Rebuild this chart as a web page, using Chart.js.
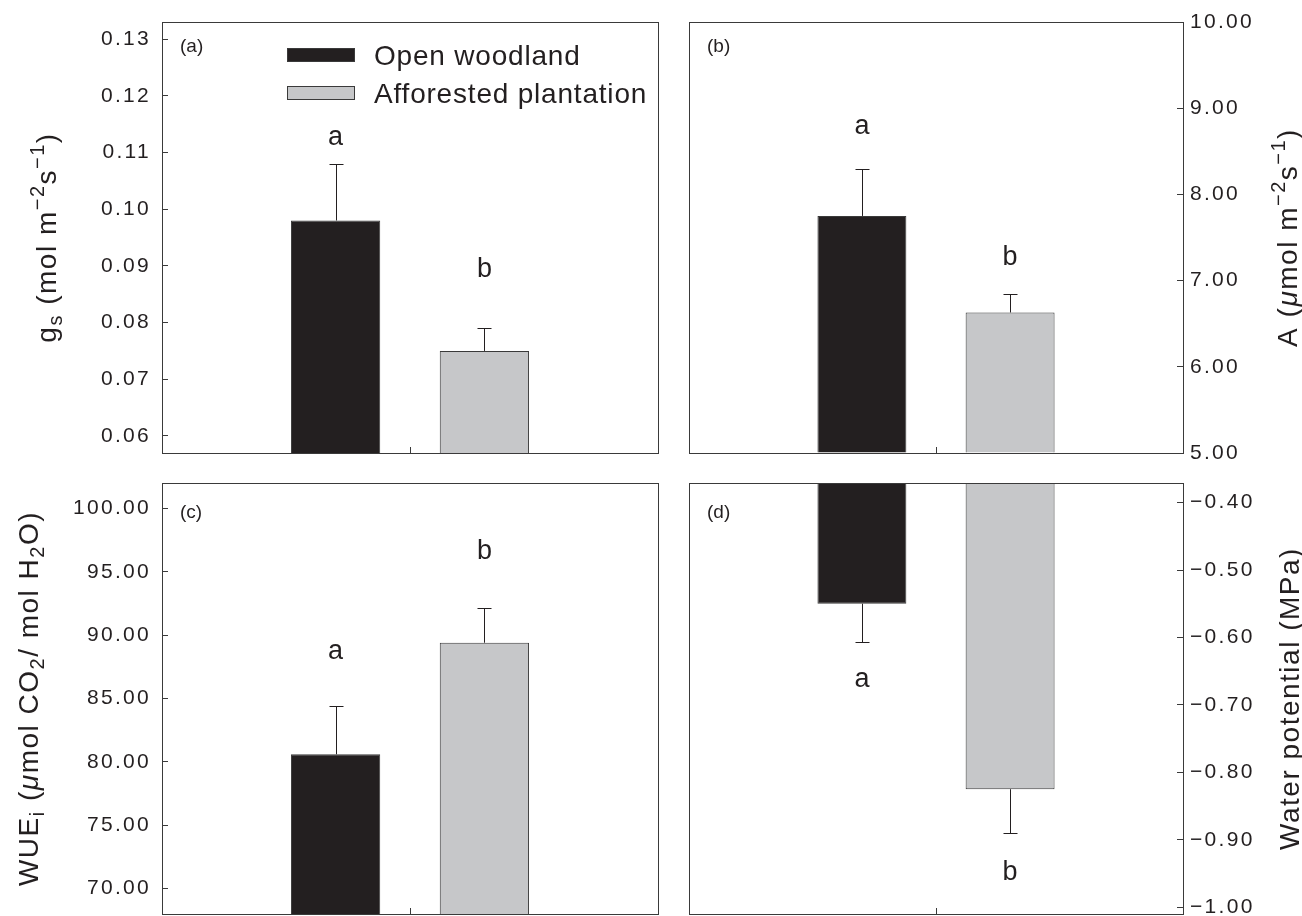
<!DOCTYPE html>
<html>
<head>
<meta charset="utf-8">
<script src="https://cdn.jsdelivr.net/npm/chart.js@4/dist/chart.umd.min.js"></script>
<style>
    body { margin: 0; background: #fff; width: 1302px; height: 916px; position: relative; overflow: hidden; }
    .panel { position: absolute; }
</style>
</head>
<body>
<div class="panel" style="left:0;top:0"><canvas id="chartA" width="662" height="456"></canvas></div>
<div class="panel" style="left:680px;top:0"><canvas id="chartB" width="622" height="472"></canvas></div>
<div class="panel" style="left:0;top:462px"><canvas id="chartC" width="662" height="454"></canvas></div>
<div class="panel" style="left:680px;top:462px"><canvas id="chartD" width="622" height="454"></canvas></div>
<script>
// ---- data ----
const sites = ["Open woodland", "Afforested plantation"];
const siteColors = ["#231f20", "#c6c7c9"];

const gsMean = [0.098, 0.075];
const gsErr = [0.010, 0.004];
const gsLetters = ["a", "b"];
const gsLetterY = [0.1126, 0.0894];
const gsRange = [0.057, 0.133];

const aMean = [7.75, 6.63];
const aErr = [0.55, 0.21];
const aLetters = ["a", "b"];
const aLetterY = [8.79, 7.27];
const aRange = [5, 10];

const wueMean = [80.6, 89.4];
const wueErr = [3.8, 2.7];
const wueLetters = ["a", "b"];
const wueLetterY = [88.7, 96.6];
const wueRange = [68, 102];

const wpMean = [-0.55, -0.825];
const wpErr = [0.057, 0.065];
const wpLetters = ["a", "b"];
const wpLetterY = [-0.663, -0.949];
const wpRange = [-1.01, -0.371];

const FONT = "'Liberation Sans', Arial, Helvetica, sans-serif";
const INK = "#231f20";
const FRAME = "#3a3a3a";

// draws a rotated axis title made of plain / sub / sup / italic parts
function drawRichTitle(ctx, parts, cx, cy, size) {
    const small = Math.round(size * 0.72);
    const fontOf = p => (p.it ? "italic " : "") + (p.sub || p.sup ? small : size) + "px " + FONT;

    ctx.save();
    ctx.letterSpacing = "1.5px";
    ctx.textBaseline = "alphabetic";
    ctx.textAlign = "left";

    let total = 0;
    parts.forEach(p => {
        ctx.font = fontOf(p);
        p.w = ctx.measureText(p.t).width;
        total += p.w;
    });

    ctx.translate(cx, cy);
    ctx.rotate(-Math.PI / 2);
    ctx.fillStyle = INK;

    let x = -total / 2;
    const baseY = size * 0.36;
    parts.forEach(p => {
        ctx.font = fontOf(p);
        let y = baseY;
        if (p.sub) y += size * 0.22;
        if (p.sup) y -= size * 0.42;
        ctx.fillText(p.t, x, y);
        x += p.w;
    });
    ctx.restore();
}

const panelExtras = {
    id: "panelExtras",

    beforeDraw(chart) {
        // tick labels in the figure are tracked out a bit
        chart.ctx.letterSpacing = "2.3px";
    },

    afterDatasetsDraw(chart, args, opts) {
        const ctx = chart.ctx;
        const area = chart.chartArea;
        const yScale = chart.scales.y;

        ctx.save();
        ctx.letterSpacing = "0px";

        // box around the plot
        ctx.strokeStyle = FRAME;
        ctx.lineWidth = 1;
        ctx.strokeRect(
            Math.round(area.left) + 0.5, Math.round(area.top) + 0.5,
            Math.round(area.right - area.left), Math.round(area.bottom - area.top)
        );

        chart.data.datasets.forEach((ds, i) => {
            const bar = chart.getDatasetMeta(i).data[0];
            const mean = ds.data[0];
            const dir = Math.sign(mean - ds.base);
            const y0 = yScale.getPixelForValue(mean);
            const y1 = yScale.getPixelForValue(mean + dir * opts.err[i]);
            const x = Math.round(bar.x) + 0.5;

            // one-sided error bar
            ctx.strokeStyle = INK;
            ctx.lineWidth = 1;
            ctx.beginPath();
            ctx.moveTo(x, y0);
            ctx.lineTo(x, Math.round(y1) + 0.5);
            ctx.moveTo(x - 7, Math.round(y1) + 0.5);
            ctx.lineTo(x + 7, Math.round(y1) + 0.5);
            ctx.stroke();

            // significance letter
            ctx.fillStyle = INK;
            ctx.font = "27px " + FONT;
            ctx.textAlign = "center";
            ctx.textBaseline = "middle";
            ctx.letterSpacing = "0px";
            ctx.fillText(opts.letters[i], bar.x, yScale.getPixelForValue(opts.letterY[i]));
        });

        // panel tag
        ctx.font = "19px " + FONT;
        ctx.textAlign = "left";
        ctx.textBaseline = "middle";
        ctx.fillText(opts.tag, area.left + 18, area.top + opts.tagDy);

        // legend (panel a only)
        if (opts.legend) {
            chart.data.datasets.forEach((ds, i) => {
                const top = area.top + (i === 0 ? 26 : 64);
                ctx.fillStyle = ds.backgroundColor;
                ctx.fillRect(area.left + 125, top, 68, 14);
                ctx.strokeStyle = FRAME;
                ctx.strokeRect(area.left + 125.5, top + 0.5, 67, 13);
                ctx.fillStyle = INK;
                ctx.font = "28px " + FONT;
                ctx.letterSpacing = "0.8px";
                ctx.fillText(ds.label, area.left + 212, top + 9);
            });
        }
        ctx.restore();
    },

    afterDraw(chart, args, opts) {
        const area = chart.chartArea;
        drawRichTitle(chart.ctx, opts.title, opts.titleX, (area.top + area.bottom) / 2, 28);
    }
};

function fmt(v) {
    return v.toFixed(2).replace("-", "\u2212");
}

function makePanel(canvasId, cfg) {
    const onLeft = cfg.side === "left";

    return new Chart(document.getElementById(canvasId), {
        type: "bar",
        data: {
            labels: [""],
            datasets: sites.map((name, i) => ({
                label: name,
                data: [cfg.mean[i]],
                base: cfg.base,
                backgroundColor: siteColors[i],
                borderColor: FRAME,
                borderWidth: 1,
                barPercentage: 0.6,
                categoryPercentage: 0.6
            }))
        },
        options: {
            responsive: false,
            animation: false,
            events: [],
            layout: { padding: cfg.padding },
            plugins: {
                legend: { display: false },
                tooltip: { enabled: false },
                panelExtras: {
                    err: cfg.err,
                    letters: cfg.letters,
                    letterY: cfg.letterY,
                    tag: cfg.tag,
                    tagDy: cfg.tagDy,
                    legend: cfg.legend || false,
                    title: cfg.title,
                    titleX: cfg.titleX
                }
            },
            scales: {
                x: {
                    grid: {
                        offset: false,
                        drawOnChartArea: false,
                        tickLength: -6,
                        color: FRAME
                    },
                    border: { color: FRAME },
                    ticks: { display: false },
                    afterFit(s) {
                        s.height = 0;
                        s.paddingLeft = 0;
                        s.paddingRight = 0;
                    }
                },
                y: {
                    position: cfg.side,
                    min: cfg.range[0],
                    max: cfg.range[1],
                    ticks: {
                        stepSize: cfg.step,
                        includeBounds: false,
                        padding: onLeft ? 17 : 13,
                        color: INK,
                        font: { family: FONT, size: 21 },
                        callback: v => fmt(v)
                    },
                    grid: {
                        drawOnChartArea: false,
                        tickLength: -6,
                        color: FRAME
                    },
                    border: { color: FRAME },
                    afterFit(s) {
                        s.width = cfg.axisWidth;
                        s.paddingTop = 0;
                        s.paddingBottom = 0;
                    }
                }
            }
        },
        plugins: [panelExtras]
    });
}

makePanel("chartA", {
    side: "left", mean: gsMean, err: gsErr, letters: gsLetters, letterY: gsLetterY,
    range: gsRange, step: 0.01, base: gsRange[0],
    padding: { top: 22, right: 4, bottom: 3, left: 0 }, axisWidth: 162,
    tag: "(a)", tagDy: 25, legend: true, titleX: 46,
    title: [{ t: "g" }, { t: "s", sub: true }, { t: " (mol m" }, { t: "\u22122", sup: true }, { t: "s" }, { t: "\u22121", sup: true }, { t: ")" }]
});

makePanel("chartB", {
    side: "right", mean: aMean, err: aErr, letters: aLetters, letterY: aLetterY,
    range: aRange, step: 1, base: aRange[0],
    padding: { top: 22, right: 0, bottom: 19, left: 9 }, axisWidth: 119,
    tag: "(b)", tagDy: 25, titleX: 607,
    title: [{ t: "A (" }, { t: "\u03bc", it: true }, { t: "mol m" }, { t: "\u22122", sup: true }, { t: "s" }, { t: "\u22121", sup: true }, { t: ")" }]
});

makePanel("chartC", {
    side: "left", mean: wueMean, err: wueErr, letters: wueLetters, letterY: wueLetterY,
    range: wueRange, step: 5, base: wueRange[0],
    padding: { top: 21, right: 4, bottom: 2, left: 0 }, axisWidth: 162,
    tag: "(c)", tagDy: 30, titleX: 28,
    title: [{ t: "WUE" }, { t: "i", sub: true }, { t: " (" }, { t: "\u03bc", it: true }, { t: "mol CO" }, { t: "2", sub: true }, { t: "/ mol H" }, { t: "2", sub: true }, { t: "O)" }]
});

makePanel("chartD", {
    side: "right", mean: wpMean, err: wpErr, letters: wpLetters, letterY: wpLetterY,
    range: wpRange, step: 0.1, base: wpRange[1],
    padding: { top: 21, right: 0, bottom: 2, left: 9 }, axisWidth: 119,
    tag: "(d)", tagDy: 30, titleX: 609,
    title: [{ t: "Water potential (MPa)" }]
});
</script>
</body>
</html>
